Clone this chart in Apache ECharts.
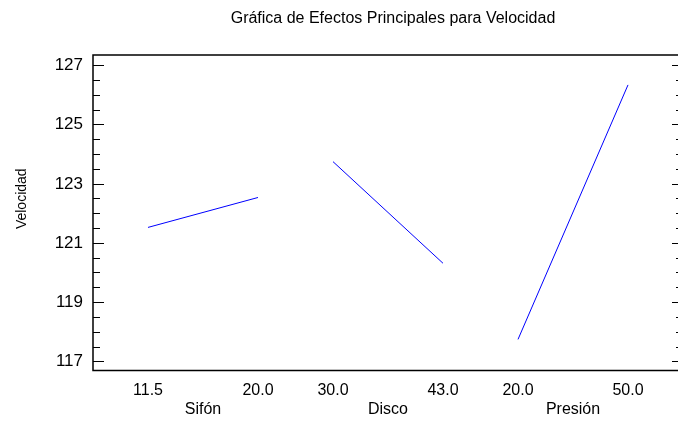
<!DOCTYPE html>
<html>
<head>
<meta charset="utf-8">
<script src="https://cdn.jsdelivr.net/npm/echarts@6/dist/echarts.min.js"></script>
<style>html,body{margin:0;padding:0;background:#fff}#c{width:678px;height:426px}</style>
</head>
<body>
<div id="c"></div>
<script>
// ---- data ----
const titleText = 'Gráfica de Efectos Principales para Velocidad';
const yName = 'Velocidad';
const factors = ['Sifón', 'Disco', 'Presión'];
const levelLabels = [['11.5', '20.0'], ['30.0', '43.0'], ['20.0', '50.0']];
const meansSifon = [121.53, 122.54];
const meansDisco = [123.75, 120.32];
const meansPresion = [117.75, 126.34];
const yTicks = [117, 119, 121, 123, 125, 127];
const yMinorTicks = [117.5, 118, 118.5, 119.5, 120, 120.5, 121.5, 122, 122.5, 123.5, 124, 124.5, 125.5, 126, 126.5];

// ---- layout ----
const STEP = 1.682; // distance between factor blocks in axis units
const allMeans = [meansSifon, meansDisco, meansPresion];
const pos = [];
const posLabels = [];
const mids = [];
factors.forEach((f, i) => {
  pos.push(i * STEP, i * STEP + 1);
  posLabels.push(levelLabels[i][0], levelLabels[i][1]);
  mids.push(i * STEP + 0.5);
});
function nearestIdx(arr, v) {
  let b = 0, d = Infinity;
  arr.forEach((a, i) => { if (Math.abs(a - v) < d) { d = Math.abs(a - v); b = i; } });
  return b;
}
const series = factors.map((f, i) => ({
  type: 'line',
  name: f,
  data: [[pos[2 * i], allMeans[i][0]], [pos[2 * i + 1], allMeans[i][1]]],
  symbol: 'none',
  lineStyle: { color: '#0000ff', width: 1 },
  xAxisIndex: 0, yAxisIndex: 0,
  silent: true
}));

const YMIN = 116.7, YMAX = 127.35;
const font = 'Liberation Sans, Arial, sans-serif';
function yAx(position, ticks, len, showLabel) {
  return {
    type: 'value', position: position, min: YMIN, max: YMAX,
    axisLine: { show: false, onZero: false },
    splitLine: { show: false },
    axisTick: { show: true, inside: true, length: len, customValues: ticks, lineStyle: { color: '#000', width: 1 } },
    axisLabel: { show: showLabel, customValues: ticks, margin: 10, color: '#000', fontSize: 17, fontFamily: font, formatter: v => String(Math.round(v)) }
  };
}

const chart = echarts.init(document.getElementById('c'), null, { renderer: 'canvas' });
chart.setOption({
  animation: false,
  backgroundColor: '#fff',
  title: {
    text: titleText, left: 388, top: 6, textAlign: 'center',
    textStyle: { fontSize: 16, fontWeight: 'normal', color: '#000', fontFamily: font }
  },
  grid: { left: 93, top: 55, right: -5, bottom: 55.5, outerBoundsMode: 'none', containLabel: false, show: true, borderColor: '#000', borderWidth: 1.5, backgroundColor: 'transparent' },
  xAxis: [
    {
      type: 'value', min: -0.5, max: 4.864, position: 'bottom',
      axisLine: { show: false, onZero: false }, axisTick: { show: false }, splitLine: { show: false },
      axisLabel: { customValues: pos, margin: 12, color: '#000', fontSize: 16, fontFamily: font, formatter: v => posLabels[nearestIdx(pos, v)] }
    },
    {
      type: 'value', min: -0.5, max: 4.864, position: 'bottom', offset: 19,
      axisLine: { show: false, onZero: false }, axisTick: { show: false }, splitLine: { show: false },
      axisLabel: { customValues: mids, margin: 12, color: '#000', fontSize: 16, fontFamily: font, formatter: v => factors[nearestIdx(mids, v)] }
    }
  ],
  yAxis: [
    Object.assign(yAx('left', yTicks, 11, true), {
      name: yName, nameLocation: 'middle', nameGap: 64, nameRotate: 90,
      nameTextStyle: { fontSize: 14, color: '#000', fontFamily: font, padding: [0, 0, 0, 28] }
    }),
    yAx('left', yMinorTicks, 7, false),
    yAx('right', yTicks, 11, false),
    yAx('right', yMinorTicks, 7, false)
  ],
  series: series
});
</script>
</body>
</html>
